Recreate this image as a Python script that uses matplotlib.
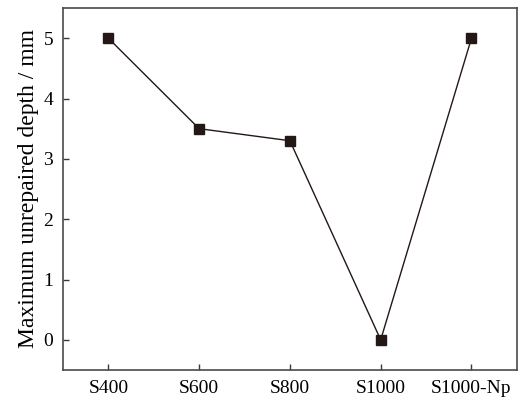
import matplotlib
matplotlib.use('Agg')
import matplotlib.pyplot as plt

# datos
muestras = ['S400', 'S600', 'S800', 'S1000', 'S1000-Np']
profundidad = [5.0, 3.5, 3.3, 0.0, 5.0]

plt.rcParams['font.family'] = ['Liberation Serif', 'DejaVu Serif']

fig = plt.figure(figsize=(5.2, 4.0), dpi=100)
ax = fig.add_axes([0.121, 0.075, 0.873, 0.905])

x = range(len(muestras))
ax.plot(x, profundidad, color='#231815', lw=1.0, marker='s', markersize=7,
        markerfacecolor='#231815', markeredgecolor='#231815')

ax.set_xlim(-0.5, 4.5)
ax.set_ylim(-0.5, 5.5)
ax.set_xticks(list(x))
ax.set_xticklabels(muestras)
ax.set_yticks([0, 1, 2, 3, 4, 5])
ax.set_ylabel('Maximum unrepaired depth / mm', fontsize=17, labelpad=3)

ax.tick_params(direction='in', labelsize=14, length=4, width=1,
               color='#3a3a3a', top=False, right=False, pad=7)
for s in ax.spines.values():
    s.set_color('#4a4a4a')
    s.set_linewidth(1.2)

fig.savefig('out.png', dpi=100)
